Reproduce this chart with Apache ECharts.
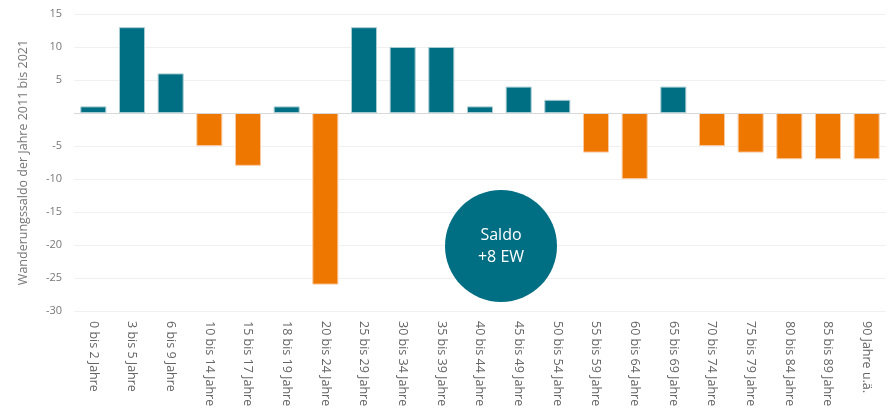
<!DOCTYPE html>
<html>
<head>
<meta charset="utf-8">
<script src="https://cdn.jsdelivr.net/npm/echarts@6/dist/echarts.min.js"></script>
<style>
  html, body { margin: 0; padding: 0; background: #fff; }
  #chart { width: 895px; height: 411px; }
</style>
</head>
<body>
<div id="chart"></div>
<script>
var categories = ['0 bis 2 Jahre', '3 bis 5 Jahre', '6 bis 9 Jahre', '10 bis 14 Jahre', '15 bis 17 Jahre',
  '18 bis 19 Jahre', '20 bis 24 Jahre', '25 bis 29 Jahre', '30 bis 34 Jahre', '35 bis 39 Jahre',
  '40 bis 44 Jahre', '45 bis 49 Jahre', '50 bis 54 Jahre', '55 bis 59 Jahre', '60 bis 64 Jahre',
  '65 bis 69 Jahre', '70 bis 74 Jahre', '75 bis 79 Jahre', '80 bis 84 Jahre', '85 bis 89 Jahre',
  '90 Jahre u.ä.']
var saldo = [1, 13, 6, -5, -8, 1, -26, 13, 10, 10, 1, 4, 2, -6, -10, 4, -5, -6, -7, -7, -7]
var yTicks = [-30, -25, -20, -15, -10, -5, 0, 5, 10, 15]
var saldoText = ['Saldo', '+8 EW']

var teal = '#006f83'
var orange = '#ee7700'
var font = 'Open Sans, Noto Sans, sans-serif'

var chart = echarts.init(document.getElementById('chart'))
chart.setOption({
  animation: false,
  textStyle: {fontFamily: font},
  grid: {left: 74, right: 9, top: 14, bottom: 100},
  xAxis: {
    type: 'category',
    data: categories,
    axisLine: {show: false, onZero: false},
    axisTick: {show: false},
    axisLabel: {rotate: -90, interval: 0, color: '#666', fontSize: 12.5, fontFamily: font, margin: 10}
  },
  yAxis: {
    type: 'value',
    min: yTicks[0],
    max: yTicks[yTicks.length - 1],
    interval: 5,
    name: 'Wanderungssaldo der Jahre 2011 bis 2021',
    nameLocation: 'middle',
    nameGap: 44,
    nameTextStyle: {color: '#777', fontSize: 12.5, fontFamily: font},
    axisLine: {show: false},
    axisTick: {show: false},
    axisLabel: {
      color: '#777', fontSize: 11, fontFamily: font, margin: 12,
      formatter: function (v) { return v === 0 ? '' : String(v) }
    },
    splitLine: {lineStyle: {color: '#f0f0f0'}}
  },
  series: [{
    type: 'bar',
    data: saldo.map(function (v) {
      return {
        value: v,
        itemStyle: {
          color: v >= 0 ? teal : orange,
          borderColor: v >= 0 ? '#a6cbd2' : '#f9c89f',
          borderWidth: 1
        }
      }
    }),
    barWidth: 26,
    markLine: {
      silent: true,
      symbol: 'none',
      label: {show: false},
      lineStyle: {color: '#d9d9d9', type: 'solid', width: 1},
      data: [{yAxis: 0}]
    }
  }],
  graphic: [{
    type: 'group',
    left: 445,
    top: 190,
    zlevel: 1,
    children: [{
      type: 'circle',
      zlevel: 1,
      z: 100,
      shape: {cx: 56, cy: 56, r: 56},
      style: {fill: teal}
    }, {
      type: 'text',
      zlevel: 1,
      z: 101,
      x: 56,
      y: 56,
      style: {
        text: saldoText.join('\n'),
        fill: '#fff',
        font: '16px ' + font,
        lineHeight: 22,
        align: 'center',
        verticalAlign: 'middle'
      }
    }]
  }]
})
</script>
</body>
</html>
